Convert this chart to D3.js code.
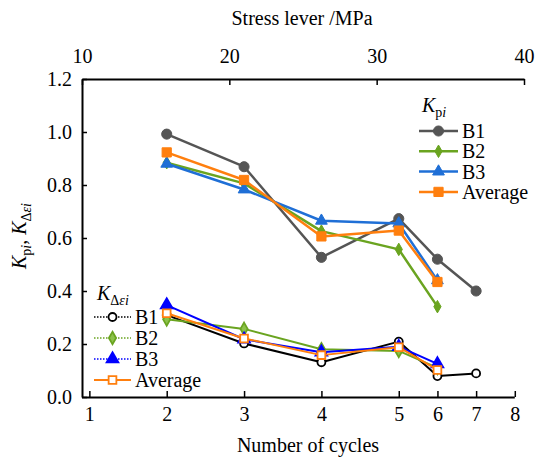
<!DOCTYPE html>
<html>
<head>
<meta charset="utf-8">
<script src="https://cdn.jsdelivr.net/npm/d3@7"></script>
<style>
  html, body { margin: 0; padding: 0; background: #fff; }
</style>
</head>
<body>
<svg id="chart" width="535" height="459"></svg>
<script>
// Cycle numbers and the stress level (MPa) each cycle was run at
const cycles = [1, 2, 3, 4, 5, 6, 7, 8];
const cycleStress = [10.5, 15.75, 21, 26.25, 31.5, 34.125, 36.75, 39.375];
const stressTicks = [10, 20, 30, 40];
const yTicks = [0, 0.2, 0.4, 0.6, 0.8, 1.0, 1.2];

// K_pi per specimen (cycles 2..7 for B1, 2..6 for the others)
const kpiB1 = [0.992, 0.869, 0.527, 0.673, 0.520, 0.400];
const kpiB2 = [0.884, 0.806, 0.626, 0.557, 0.341];
const kpiB3 = [0.880, 0.783, 0.665, 0.655, 0.440];
const kpiAvg = [0.923, 0.819, 0.606, 0.628, 0.434];

// K_Δεi per specimen
const kdeB1 = [0.309, 0.202, 0.131, 0.209, 0.079, 0.089];
const kdeB2 = [0.293, 0.257, 0.180, 0.174, 0.110];
const kdeB3 = [0.347, 0.218, 0.169, 0.190, 0.125];
const kdeAvg = [0.316, 0.221, 0.158, 0.188, 0.102];

const firstCycle = 2;

const svg = d3.select("#chart");
const plotLeft = 82, plotRight = 524, plotTop = 79, plotBottom = 397;

const x = d3.scaleLinear().domain([10, 40]).range([plotLeft, plotRight]);
const y = d3.scaleLinear().domain([0, 1.2]).range([plotBottom, plotTop]);

const FONT = 20;

// ---- axes ----
const gLeft = svg.append("g").attr("transform", `translate(${plotLeft},0)`)
  .call(d3.axisLeft(y).tickValues(yTicks).tickFormat(d3.format(".1f"))
    .tickSizeInner(-5).tickSizeOuter(0).tickPadding(10));
const gBottom = svg.append("g").attr("transform", `translate(0,${plotBottom})`)
  .call(d3.axisBottom(x).tickValues(cycleStress)
    .tickFormat((d, i) => cycles[i]).tickSizeInner(-6).tickSizeOuter(0).tickPadding(10));
const gTop = svg.append("g").attr("transform", `translate(0,${plotTop})`)
  .call(d3.axisTop(x).tickValues(stressTicks)
    .tickSizeInner(-6).tickSizeOuter(0).tickPadding(16));

gBottom.select(".domain").attr("d", `M${plotLeft},0.5H${x(cycleStress[cycleStress.length - 1])}`);

[gLeft, gBottom, gTop].forEach(g => {
  g.attr("font-size", FONT);
  g.select(".domain").attr("stroke", "#000").attr("stroke-width", 2);
  g.selectAll(".tick line").attr("stroke", "#000").attr("stroke-width", 1.5);
  g.selectAll(".tick text").attr("fill", "#000");
});

// ---- axis titles ----
svg.append("text").attr("x", 302).attr("y", 25).attr("text-anchor", "middle")
  .attr("font-size", FONT).text("Stress lever /MPa");
svg.append("text").attr("x", 308).attr("y", 452).attr("text-anchor", "middle")
  .attr("font-size", FONT).text("Number of cycles");

// K with a subscript made of (text, italic) parts
function kLabel(sel, parts) {
  sel.append("tspan").attr("font-style", "italic").text("K");
  parts.forEach((p, i) => {
    sel.append("tspan").attr("font-size", 14).attr("font-style", p[1] ? "italic" : "normal")
      .attr("dy", i === 0 ? 5 : null).text(p[0]);
  });
}

const yTitle = svg.append("text").attr("text-anchor", "middle")
  .attr("transform", "translate(26,236) rotate(-90)").attr("font-size", FONT);
kLabel(yTitle, [["p", false], ["i", true]]);
yTitle.append("tspan").attr("dy", -5).text(", ");
kLabel(yTitle, [["Δ", false], ["ε", true], ["i", true]]);

// ---- markers ----
function marker(g, shape, size, fill, stroke, sw) {
  const sym = { circle: d3.symbolCircle, diamond: d3.symbolDiamond,
                triangle: d3.symbolTriangle, square: d3.symbolSquare }[shape];
  return g.append("path").attr("d", d3.symbol().type(sym).size(size)())
    .attr("fill", fill).attr("stroke", stroke).attr("stroke-width", sw);
}

const kpiSeries = [
  { name: "B1", values: kpiB1, color: "#555555", shape: "circle", size: 80, fill: "#555555" },
  { name: "B2", values: kpiB2, color: "#6aa420", shape: "diamond", size: 45, fill: "#6aa420" },
  { name: "B3", values: kpiB3, color: "#1f6fd6", shape: "triangle", size: 60, fill: "#1f6fd6" },
  { name: "Average", values: kpiAvg, color: "#ff7f0e", shape: "square", size: 85, fill: "#ff7f0e" }
];
const kdeSeries = [
  { name: "B1", values: kdeB1, color: "#000000", shape: "circle", size: 50, fill: "#ffffff", dash: "1.5,1.5" },
  { name: "B2", values: kdeB2, color: "#6aa420", shape: "diamond", size: 45, fill: "#8cc24a", dash: "1.5,1.5" },
  { name: "B3", values: kdeB3, color: "#0000ff", shape: "triangle", size: 60, fill: "#0000ff", dash: "1.5,1.5" },
  { name: "Average", values: kdeAvg, color: "#ff7f0e", shape: "square", size: 60, fill: "#ffffff", dash: null }
];

const line = d3.line().x(d => x(d[0])).y(d => y(d[1]));

function drawSeries(list, lw, mw) {
  list.forEach(s => {
    const pts = s.values.map((v, i) => [cycleStress[cycles.indexOf(firstCycle + i)], v]);
    const g = svg.append("g");
    g.append("path").datum(pts).attr("d", line).attr("fill", "none")
      .attr("stroke", s.color).attr("stroke-width", lw).attr("stroke-linejoin", "round");
    pts.forEach(p => {
      marker(g, s.shape, s.size, s.fill, s.color, mw)
        .attr("transform", `translate(${x(p[0])},${y(p[1])})`);
    });
  });
}
drawSeries(kpiSeries, 2.5, 1);
drawSeries(kdeSeries, 2, 1.8);

// ---- legends ----
function legend(list, x0, x1, tx, y0, step, lw, mw, titleParts, titleY) {
  const t = svg.append("text").attr("x", x0 + 3).attr("y", titleY).attr("font-size", FONT);
  kLabel(t, titleParts);
  list.forEach((s, i) => {
    const yy = y0 + i * step;
    svg.append("line").attr("x1", x0).attr("x2", x1).attr("y1", yy).attr("y2", yy)
      .attr("stroke", s.color).attr("stroke-width", s.dash ? 1.5 : lw)
      .attr("stroke-dasharray", s.dash || null);
    marker(svg, s.shape, s.size, s.fill, s.color, mw)
      .attr("transform", `translate(${(x0 + x1) / 2},${yy})`);
    svg.append("text").attr("x", tx).attr("y", yy + 7).attr("font-size", FONT).text(s.name);
  });
}
legend(kpiSeries, 419, 458, 462, 131, 20.3, 2.5, 1, [["p", false], ["i", true]], 112);
legend(kdeSeries, 94, 131, 135, 317, 21, 2, 1.8, [["Δ", false], ["ε", true], ["i", true]], 300);

// every label uses the serif face
svg.selectAll("text").style("font-family", "'Liberation Serif'");
</script>
</body>
</html>
